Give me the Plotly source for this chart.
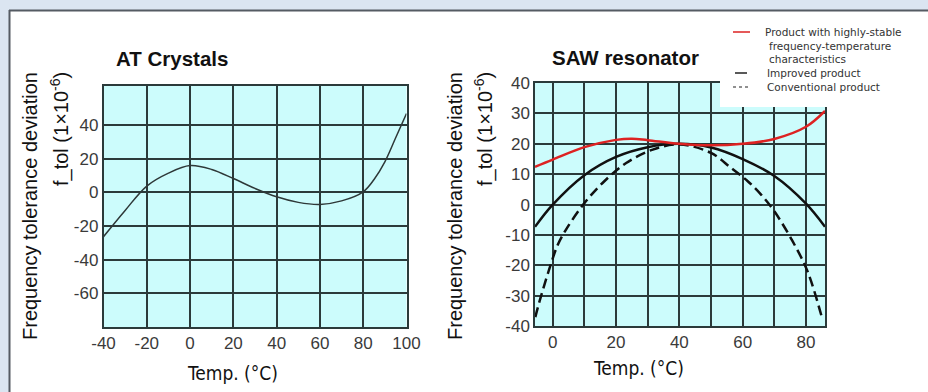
import plotly.graph_objects as go

W, H = 928, 392

# ---------------- data ----------------
at_temp = [-40, -30, -20, -10, 0, 10, 20, 30, 40, 50, 60, 70, 80, 85, 90, 95, 100]
at_dev = [-26.3, -10.7, 3.8, 11.5, 16.0, 13.7, 8.3, 2.4, -2.6, -5.9, -7.1, -5.0, 0.4, 7.7, 18.2, 32.5, 46.9]

saw_temp_stable = [-5.6, 0, 10, 20, 25, 30, 40, 50, 60, 70, 80, 86]
saw_dev_stable = [12.4, 14.8, 18.9, 21.3, 21.7, 21.2, 20.0, 19.5, 20.0, 21.6, 25.6, 30.8]

saw_temp_improved = [-5.6, 0, 10, 20, 30, 40, 50, 60, 70, 80, 86]
saw_dev_improved = [-7.3, 0.0, 9.7, 15.7, 18.9, 20.0, 18.8, 15.0, 9.4, 0.3, -7.3]

saw_temp_conv = [-5.5, -4.2, -1.0, 1.6, 4.2, 10, 16.3, 23.2, 31.6, 40, 50, 56.3, 61.6, 65.8, 70, 75.8, 80.5, 85]
saw_dev_conv = [-37, -31.9, -20.9, -13.2, -8.2, 0.5, 7.7, 13.7, 18.1, 19.8, 17.0, 12.1, 7.7, 3.3, -2.2, -12.1, -22, -37]

at_xticks = [-40, -20, 0, 20, 40, 60, 80, 100]
at_xticklabels = ["-40", "-20", "0", "20", "40", "60", "80", "100"]
at_yticks = [-60, -40, -20, 0, 20, 40]
at_yticklabels = ["-60", "-40", "-20", "0", "20", "40"]
saw_xticks = [0, 20, 40, 60, 80]
saw_xticklabels = ["0", "20", "40", "60", "80"]
saw_xgrid_step = 10
saw_yticks = [-40, -30, -20, -10, 0, 10, 20, 30, 40]
saw_yticklabels = ["-40", "-30", "-20", "-10", "0", "10", "20", "30", "40"]

legend_labels = [
    "Product with highly-stable",
    "frequency-temperature",
    "characteristics",
    "Improved product",
    "Conventional product",
]

# ---------------- styles ----------------
FONT = "Liberation Sans, Arial, sans-serif"
NARROW = "Liberation Sans Narrow, DejaVu Sans Condensed, Liberation Sans, sans-serif"
LEG = "DejaVu Sans, sans-serif"
GRID = "#2b3a3a"
TICKCOL = "#3a3a3a"


def px(x):
    return x / W


def py(y):
    return 1 - y / H


fig = go.Figure()

fig.add_trace(go.Scatter(x=at_temp, y=at_dev, mode="lines",
                         line=dict(color="#2e3838", width=1.5, shape="spline"),
                         xaxis="x", yaxis="y", showlegend=False, hoverinfo="skip"))

fig.add_trace(go.Scatter(x=saw_temp_conv, y=saw_dev_conv, mode="lines",
                         line=dict(color="#111111", width=2.5, shape="spline", dash="10px,5px"),
                         xaxis="x2", yaxis="y2", showlegend=False, hoverinfo="skip"))
fig.add_trace(go.Scatter(x=saw_temp_improved, y=saw_dev_improved, mode="lines",
                         line=dict(color="#111111", width=2.5, shape="spline"),
                         xaxis="x2", yaxis="y2", showlegend=False, hoverinfo="skip"))
fig.add_trace(go.Scatter(x=saw_temp_stable, y=saw_dev_stable, mode="lines",
                         line=dict(color="#dd2222", width=2.5, shape="spline"),
                         xaxis="x2", yaxis="y2", showlegend=False, hoverinfo="skip"))

axis_common = dict(showgrid=True, gridcolor=GRID, gridwidth=1.5,
                   showline=True, linecolor=GRID, linewidth=1.5, mirror=True,
                   zeroline=False, ticks="", fixedrange=True, automargin=False,
                   tickfont=dict(family=FONT, size=17, color=TICKCOL))

fig.update_layout(
    width=W, height=H,
    autosize=False,
    margin=dict(l=0, r=0, t=0, b=0, pad=0, autoexpand=False),
    paper_bgcolor="white",
    plot_bgcolor="#ccfcfc",
    showlegend=False,
    xaxis=dict(axis_common, domain=[px(103.5), px(406.5)], range=[-40, 100],
               tickmode="array", tickvals=at_xticks, ticktext=at_xticklabels, anchor="y"),
    yaxis=dict(axis_common, domain=[py(327), py(86)], range=[-80, 63.3],
               tickmode="array", tickvals=at_yticks, ticktext=at_yticklabels, anchor="x"),
    xaxis2=dict(axis_common, domain=[px(535), px(825)], range=[-5.6, 86],
                tickmode="array", tickvals=saw_xticks, ticktext=saw_xticklabels, anchor="y2",
                minor=dict(tick0=0, dtick=saw_xgrid_step, showgrid=True,
                           gridcolor=GRID, gridwidth=1.5, ticks="")),
    yaxis2=dict(axis_common, domain=[py(326.3), py(83)], range=[-40, 40],
                tickmode="array", tickvals=saw_yticks, ticktext=saw_yticklabels, anchor="x2"),
)

shapes = [
    # page frame background strips
    dict(type="rect", xref="paper", yref="paper", x0=0, x1=1, y0=py(10), y1=1,
         fillcolor="#dbe5f1", line=dict(width=0), layer="below"),
    dict(type="rect", xref="paper", yref="paper", x0=0, x1=px(9), y0=0, y1=1,
         fillcolor="#dbe5f1", line=dict(width=0), layer="below"),
    dict(type="line", xref="paper", yref="paper", x0=px(9), x1=1, y0=py(10.5), y1=py(10.5),
         line=dict(color="#555b63", width=2), layer="below"),
    dict(type="line", xref="paper", yref="paper", x0=px(9.5), x1=px(9.5), y0=0, y1=py(10),
         line=dict(color="#555b63", width=2), layer="below"),
    # legend white box covering the plot corner
    dict(type="rect", xref="paper", yref="paper", x0=px(720), x1=px(834), y0=py(107), y1=py(78),
         fillcolor="white", line=dict(width=0), layer="above"),
    # legend symbols
    dict(type="line", xref="paper", yref="paper", x0=px(733), x1=px(750), y0=py(32), y1=py(32),
         line=dict(color="#dd2222", width=1.5), layer="above"),
    dict(type="line", xref="paper", yref="paper", x0=px(735), x1=px(747), y0=py(73), y1=py(73),
         line=dict(color="#222222", width=1.5), layer="above"),
    dict(type="line", xref="paper", yref="paper", x0=px(733), x1=px(751), y0=py(87), y1=py(87),
         line=dict(color="#222222", width=1.2, dash="3px,3px"), layer="above"),
]
fig.update_layout(shapes=shapes)

ann = []


def text(t, x, y, size, angle=0, bold=False, color="#111111", xanchor="center", family=FONT):
    ann.append(dict(text=("<b>%s</b>" % t) if bold else t, x=px(x), y=py(y),
                    xref="paper", yref="paper", xanchor=xanchor, yanchor="middle",
                    textangle=angle, showarrow=False,
                    font=dict(family=family, size=size, color=color)))


text("AT Crystals", 172, 59, 20.5, bold=True)
text("SAW resonator", 625, 57, 20.5, bold=True)

text("Frequency tolerance deviation", 30, 206, 20, angle=-90)
text("f_tol (1×10<sup>-6</sup>)", 60, 129, 20, angle=-90)
text("Frequency tolerance deviation", 455, 206, 20, angle=-90)
text("f_tol (1×10<sup>-6</sup>)", 484, 129, 20, angle=-90)

text("Temp. (°C)", 232, 373, 19, family=NARROW)
text("Temp. (°C)", 638, 368, 19, family=NARROW)

text(legend_labels[0], 763, 32, 10.5, color="#333333", xanchor="left", family=LEG)
text(legend_labels[1], 767, 45.5, 10.5, color="#333333", xanchor="left", family=LEG)
text(legend_labels[2], 767, 59, 10.5, color="#333333", xanchor="left", family=LEG)
text(legend_labels[3], 765, 73, 10.5, color="#333333", xanchor="left", family=LEG)
text(legend_labels[4], 765, 87, 10.5, color="#333333", xanchor="left", family=LEG)

fig.update_layout(annotations=ann)

fig.write_html("out.html", config={"displayModeBar": False},
               post_script="document.body.style.margin='0';document.body.style.overflow='hidden';")
